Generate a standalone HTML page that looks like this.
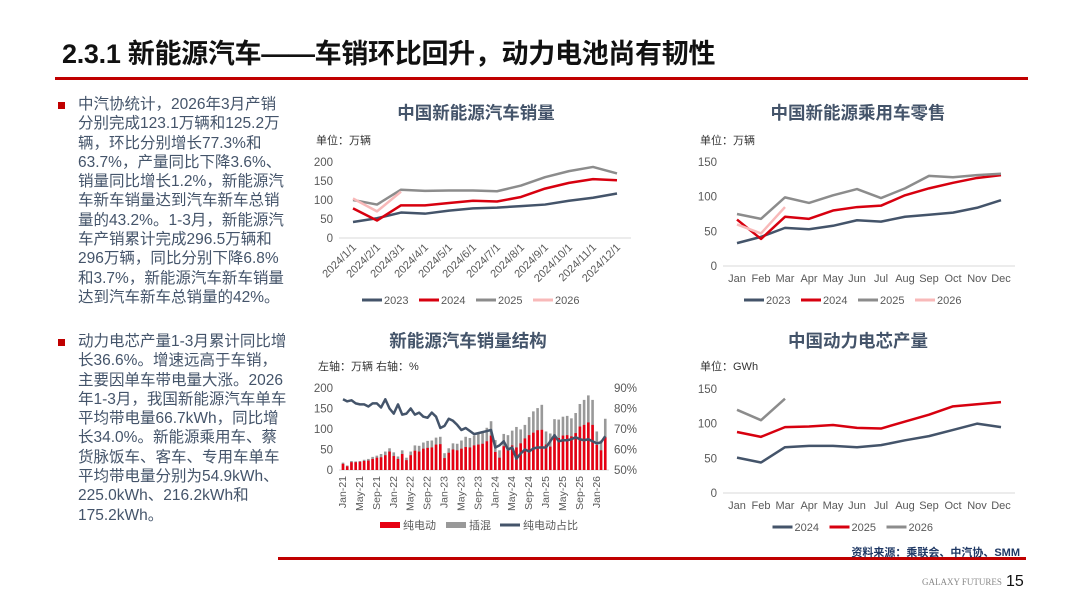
<!DOCTYPE html>
<html><head><meta charset="utf-8">
<style>
body{margin:0;width:1080px;height:608px;overflow:hidden;background:#fff;font-family:"Liberation Sans","Noto Sans CJK SC",sans-serif;}
#slide{position:relative;width:1080px;height:608px;}
.title{position:absolute;left:62px;top:32px;font-size:27px;font-weight:bold;color:#111;letter-spacing:-0.3px;}
.rule{position:absolute;background:#c00000;}
.para{position:absolute;left:78px;width:240px;font-size:15.5px;line-height:19.3px;color:#44546a;white-space:nowrap;}
.bullet{position:absolute;left:58px;width:7px;height:7px;background:#c00000;}
svg{position:absolute;left:0;top:0;}
</style></head>
<body>
<div id="slide">
<div class="title">2.3.1 新能源汽车——车销环比回升，动力电池尚有韧性</div>
<div class="rule" style="left:55px;top:77px;width:973px;height:3px;"></div>
<div class="bullet" style="top:102px;"></div>
<div class="para" style="top:95px;">中汽协统计，2026年3月产销<br>分别完成123.1万辆和125.2万<br>辆，环比分别增长77.3%和<br>63.7%，产量同比下降3.6%、<br>销量同比增长1.2%，新能源汽<br>车新车销量达到汽车新车总销<br>量的43.2%。1-3月，新能源汽<br>车产销累计完成296.5万辆和<br>296万辆，同比分别下降6.8%<br>和3.7%，新能源汽车新车销量<br>达到汽车新车总销量的42%。</div>
<div class="bullet" style="top:339px;"></div>
<div class="para" style="top:332px;">动力电芯产量1-3月累计同比增<br>长36.6%。增速远高于车销，<br>主要因单车带电量大涨。2026<br>年1-3月，我国新能源汽车单车<br>平均带电量66.7kWh，同比增<br>长34.0%。新能源乘用车、蔡<br>货脉饭车、客车、专用车单车<br>平均带电量分别为54.9kWh、<br>225.0kWh、216.2kWh和<br>175.2kWh。</div>
<div class="rule" style="left:278px;top:557px;width:748px;height:3px;"></div>
<div style="position:absolute;right:60px;top:544px;font-size:11px;font-weight:bold;color:#1f3864;">资料来源：乘联会、中汽协、SMM</div>
<div style="position:absolute;left:922px;top:577px;font-size:9px;color:#888;font-family:'Liberation Serif',serif;">GALAXY FUTURES</div>
<div style="position:absolute;left:1006px;top:573px;font-size:16px;color:#111;">15</div>
<svg id="svg" width="1080" height="608"></svg>
</div>
<script>
// Chart 1: NEV sales (万辆)
const c1Cats = ["2024/1/1","2024/2/1","2024/3/1","2024/4/1","2024/5/1","2024/6/1","2024/7/1","2024/8/1","2024/9/1","2024/10/1","2024/11/1","2024/12/1"];
const c1Ticks = [0,50,100,150,200];
const c1S2023 = [42,52,67,64,72,78,80,84,88,98,106,117];
const c1S2024 = [78,46,86,86,92,98,96,108,130,145,155,152];
const c1S2025 = [100,88,127,124,125,125,123,138,160,176,187,170];
const c1S2026 = [104,70,122];
// Chart 2: NEV passenger retail
const months = ["Jan","Feb","Mar","Apr","May","Jun","Jul","Aug","Sep","Oct","Nov","Dec"];
const c2Ticks = [0,50,100,150];
const c2S2023 = [33,42,55,53,58,66,64,71,74,77,84,95];
const c2S2024 = [67,39,71,68,80,85,87,102,112,120,127,131];
const c2S2025 = [75,68,99,91,102,111,98,112,130,128,131,133];
const c2S2026 = [60,47,85];
// Chart 3: sales structure
const c3Labels = ["Jan-21","May-21","Sep-21","Jan-22","May-22","Sep-22","Jan-23","May-23","Sep-23","Jan-24","May-24","Sep-24","Jan-25","May-25","Sep-25","Jan-26"];
const c3LeftTicks = [0,50,100,150,200];
const c3RightTicks = ["50%","60%","70%","80%","90%"];
const c3Bev = [15,9,19,19,20,22,23,27,30,31,36,45, 34,27,39,24,36,47,45,52,54,55,62,63, 29,42,50,48,52,56,55,60,62,64,70,84, 44,30,58,53,60,55,65,77,85,91,97,98, 62,57,80,78,84,85,82,90,106,110,116,110, 61,48,80];
const c3Total = [18,11,22,21,22,25,27,32,35,39,45,53, 43,33,48,30,45,60,59,67,71,72,79,81, 41,53,65,64,72,81,78,84,90,95,103,119, 73,48,88,85,96,105,99,110,129,143,151,159, 94,89,124,123,130,132,126,139,161,171,182,171, 94,72,125];
const c3Share = [84.5,83.5,84,82.5,82,82,81,82.5,82.5,80.5,84.5,80, 77.5,82,77,77.5,80,77,78,76,75.5,78,76,70.5, 71.5,75,74,72,69.5,70.5,69,67.5,68,68.5,69,69.5, 61,62,64,60,61,55.5,58,60,59,60.5,61,61, 61,64,67,64,64.5,64.5,65,66,65,64.5,65,64, 63,63.5,66.5];
// Chart 4: battery cell output (GWh)
const c4Ticks = [0,50,100,150];
const c4S2024 = [51,44,66,68,68,66,69,76,82,91,100,95];
const c4S2025 = [88,81,95,96,98,94,93,103,113,125,128,131];
const c4S2026 = [120,105,136];

const NS="http://www.w3.org/2000/svg";
const svg=document.getElementById('svg');
function mk(tag,attrs,parent){const e=document.createElementNS(NS,tag);for(const k in attrs)e.setAttribute(k,attrs[k]);(parent||svg).appendChild(e);return e;}
function txt(x,y,s,opt,parent){const t=mk('text',Object.assign({x:x,y:y,'font-size':11.5,fill:'#595959','font-family':'Liberation Sans, Noto Sans CJK SC, sans-serif'},opt||{}),parent);t.textContent=s;return t;}
const COL={dark:'#44546a',red:'#d7000f',grey:'#8c8c8c',pink:'#f8b9b9'};

function lineChart(cfg){
  const g=mk('g',{});
  
  
  const t=txt(cfg.titleX,cfg.titleY,cfg.title,{'font-size':17.5,'font-weight':'bold',fill:'#44546a','text-anchor':'middle'},g);
  
  
  const u=txt(cfg.x0-37,cfg.unitY,cfg.unit,{'font-size':11,fill:'#333'},g);
  
  
  const n=cfg.cats.length, max=cfg.ticks[cfg.ticks.length-1];
  const xs=i=>cfg.x0+(cfg.x1-cfg.x0)*i/(n-1);
  const ys=v=>cfg.yb-(cfg.yb-cfg.yt)*v/max;
  const ax=mk('line',{x1:cfg.x0-14,x2:cfg.x1+14,y1:cfg.yb,y2:cfg.yb,stroke:'#d9d9d9','stroke-width':1},g);
  
  
  cfg.ticks.forEach(v=>{const tl=txt(cfg.x0-20,ys(v)+4,String(v),{'text-anchor':'end'},g);
    
    });
  cfg.cats.forEach((c,i)=>{let tl;
    if(cfg.rotate){tl=txt(xs(i)+4,cfg.yb+10,c,{'text-anchor':'end',transform:`rotate(-45 ${xs(i)+4} ${cfg.yb+10})`,'font-size':11},g);}
    else tl=txt(xs(i),cfg.yb+16,c,{'text-anchor':'middle','font-size':11},g);
    
    });
  cfg.series.forEach(s=>{
    const p=mk('polyline',{points:s.data.map((v,i)=>xs(i)+','+ys(v)).join(' '),fill:'none',stroke:s.color,'stroke-width':2.5,'stroke-linejoin':'round'},g);
    
    
  });
  const lw=cfg.series.length*57, lx=cfg.titleX-lw/2;
  cfg.series.forEach((s,i)=>{const x=lx+i*57;
    const l=mk('line',{x1:x,x2:x+20,y1:cfg.legY-4,y2:cfg.legY-4,stroke:s.color,'stroke-width':3},g);
    
    
    const lt=txt(x+22,cfg.legY,s.label,{'font-size':11},g);
    
    });
}

lineChart({name:'nev-sales-chart',title:'中国新能源汽车销量',titleX:476,titleY:119,unit:'单位：万辆',unitY:144,cats:c1Cats,ticks:c1Ticks,x0:353,x1:617,yt:162,yb:238,rotate:true,legY:304,
  series:[{label:'2023',data:c1S2023,color:COL.dark},{label:'2024',data:c1S2024,color:COL.red},{label:'2025',data:c1S2025,color:COL.grey},{label:'2026',data:c1S2026,color:COL.pink}]});
lineChart({name:'nev-retail-chart',title:'中国新能源乘用车零售',titleX:858,titleY:119,unit:'单位：万辆',unitY:144,cats:months,ticks:c2Ticks,x0:737,x1:1001,yt:162,yb:266,rotate:false,legY:304,
  series:[{label:'2023',data:c2S2023,color:COL.dark},{label:'2024',data:c2S2024,color:COL.red},{label:'2025',data:c2S2025,color:COL.grey},{label:'2026',data:c2S2026,color:COL.pink}]});
lineChart({name:'battery-output-chart',title:'中国动力电芯产量',titleX:858,titleY:347,unit:'单位：GWh',unitY:370,cats:months,ticks:c4Ticks,x0:737,x1:1001,yt:389,yb:493,rotate:false,legY:531,
  series:[{label:'2024',data:c4S2024,color:COL.dark},{label:'2025',data:c4S2025,color:COL.red},{label:'2026',data:c4S2026,color:COL.grey}]});

// Chart 3
(function(){
  const g=mk('g',{});
  
  
  const t=txt(468,347,'新能源汽车销量结构',{'font-size':17.5,'font-weight':'bold',fill:'#44546a','text-anchor':'middle'},g);
  
  
  const u=txt(318,370,'左轴：万辆  右轴：%',{'font-size':11,fill:'#333'},g);
  
  
  const x0=343,step=4.23,yb=470,yt=388;
  const xs=i=>x0+i*step;
  const yl=v=>yb-(yb-yt)*v/200;
  const yr=p=>yb-(yb-yt)*(p-50)/40;
  c3LeftTicks.forEach(v=>{const tl=txt(333,yl(v)+4,String(v),{'text-anchor':'end'},g);
    
    });
  c3RightTicks.forEach((s,i)=>{const tl=txt(614,yr(50+i*10)+4,s,{},g);
    
    });
  const ax=mk('line',{x1:339,x2:609,y1:yb,y2:yb,stroke:'#d9d9d9'},g);
  
  
  c3Total.forEach((v,i)=>{
    const b=mk('rect',{x:xs(i)-1.3,y:yl(v),width:2.6,height:yb-yl(v),fill:'#999'},g);
    
    
    const r=mk('rect',{x:xs(i)-1.3,y:yl(c3Bev[i]),width:2.6,height:yb-yl(c3Bev[i]),fill:'#e60012'},g);
    
    
  });
  const p=mk('polyline',{points:c3Share.map((v,i)=>xs(i)+','+yr(v)).join(' '),fill:'none',stroke:'#44546a','stroke-width':2.5,'stroke-linejoin':'round'},g);
  
  
  c3Labels.forEach((s,i)=>{const x=xs(i*4)+3;
    const tl=txt(x,yb+6,s,{'text-anchor':'end','font-size':10.5,transform:`rotate(-90 ${x} ${yb+6})`},g);
    
    });
  const leg=[['纯电动','#e60012','rect',380],['插混','#999','rect',446],['纯电动占比','#44546a','line',500]];
  leg.forEach(l=>{let s;
    if(l[2]==='rect')s=mk('rect',{x:l[3],y:522,width:20,height:6,fill:l[1]},g);
    else s=mk('line',{x1:l[3],x2:l[3]+20,y1:525,y2:525,stroke:l[1],'stroke-width':3},g);
    
    
    const lt=txt(l[3]+23,529,l[0],{'font-size':11},g);
    
    });
})();
</script>
</body></html>
